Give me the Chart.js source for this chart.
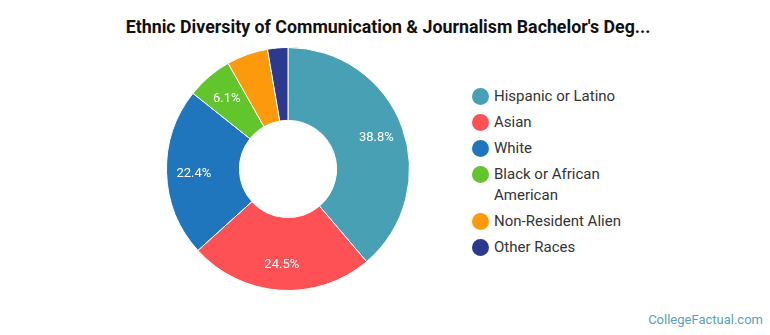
<!DOCTYPE html>
<html>
<head>
<meta charset="utf-8">
<script src="https://cdn.jsdelivr.net/npm/chart.js@4/dist/chart.umd.min.js"></script>
<style>
  html, body { margin: 0; padding: 0; background: #fff; }
  body { width: 770px; height: 335px; position: relative; overflow: hidden; font-family: Roboto, "Noto Sans", sans-serif; }
  #title { position: absolute; left: 0; top: 16px; width: 776px; text-align: center; font-weight: bold; font-size: 17.8px; line-height: 22px; color: #111; }
  #wrap { position: absolute; left: 166px; top: 47px; width: 244px; height: 244px; }
  #legend { position: absolute; left: 472px; top: 86px; width: 160px; }
  .item { position: relative; padding-left: 22px; font-size: 15px; line-height: 21px; color: #333; margin-bottom: 5px; }
  .dot { position: absolute; left: 0; top: 2px; width: 17px; height: 17px; border-radius: 50%; }
  #credit { position: absolute; right: 7px; top: 312px; font-size: 13px; color: #5a9fb5; }
</style>
</head>
<body>
<div id="title">Ethnic Diversity of Communication &amp; Journalism Bachelor's Deg...</div>
<div id="wrap"><canvas id="c" width="244" height="244"></canvas></div>
<div id="legend"></div>
<div id="credit">CollegeFactual.com</div>
<script>
const categories = ["Hispanic or Latino", "Asian", "White", "Black or African American", "Non-Resident Alien", "Other Races"];
const shares = [38.8, 24.5, 22.4, 6.1, 5.5, 2.7];
const colors = ["#48a0b4", "#fd5155", "#1f76bd", "#62c52b", "#fd9a0b", "#2b3a8e"];

const legend = document.getElementById('legend');
categories.forEach((c, i) => {
  const d = document.createElement('div');
  d.className = 'item';
  d.innerHTML = '<span class="dot" style="background:' + colors[i] + '"></span>' + c;
  legend.appendChild(d);
});

const labelPlugin = {
  id: 'sliceLabels',
  afterDatasetsDraw(chart) {
    const ctx = chart.ctx;
    const meta = chart.getDatasetMeta(0);
    ctx.save();
    ctx.fillStyle = '#fff';
    ctx.font = '13px Roboto';
    ctx.textAlign = 'center';
    ctx.textBaseline = 'middle';
    meta.data.forEach((arc, i) => {
      const v = chart.data.datasets[0].data[i];
      if (v < 6) return;
      const p = arc.getProps(['x', 'y', 'startAngle', 'endAngle', 'outerRadius'], true);
      const mid = (p.startAngle + p.endAngle) / 2;
      const r = p.outerRadius * 0.775;
      ctx.fillText(v.toFixed(1) + '%', p.x + Math.cos(mid) * r, p.y + Math.sin(mid) * r + 1.5);
    });
    ctx.restore();
  }
};

new Chart(document.getElementById('c'), {
  type: 'doughnut',
  data: {
    labels: categories,
    datasets: [{
      data: shares,
      backgroundColor: colors,
      borderColor: '#ffffff',
      borderWidth: 1
    }]
  },
  options: {
    responsive: false,
    animation: false,
    cutout: '40%',
    layout: { padding: 0 },
    plugins: { legend: { display: false }, tooltip: { enabled: false } }
  },
  plugins: [labelPlugin]
});
</script>
</body>
</html>
